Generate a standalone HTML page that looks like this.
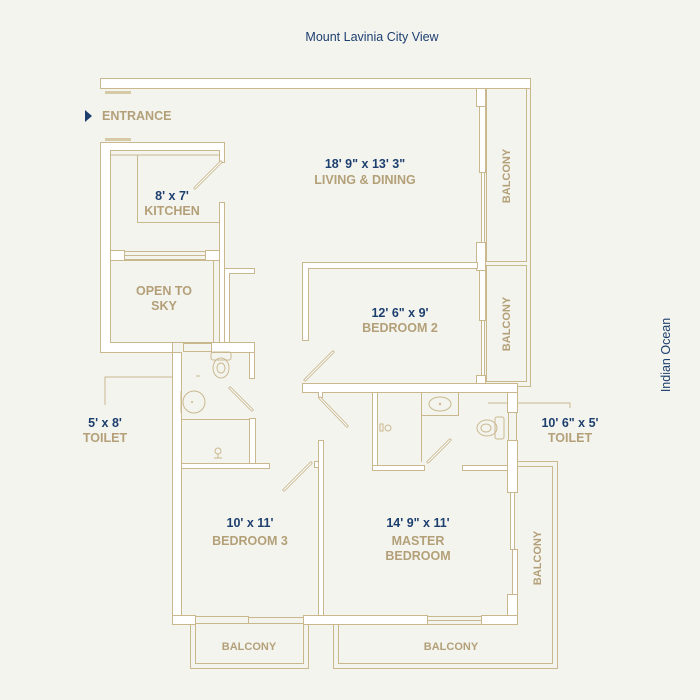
<!DOCTYPE html>
<html><head><meta charset="utf-8"><style>
html,body{margin:0;padding:0;background:#f4f4ef;}
svg{display:block}
text{font-family:"Liberation Sans",sans-serif;}
.n{fill:#1d3f6e;font-size:12.5px;font-weight:bold}
.t{fill:#b3a078;font-size:12.5px;font-weight:bold}
.w{fill:#fff;stroke:#c9b88e;stroke-width:1}
.l{fill:none;stroke:#c9b88e;stroke-width:1}
.d{stroke:#c9b88e;stroke-width:3;stroke-linecap:round}
.d2{stroke:#fff;stroke-width:1.2;stroke-linecap:round}
</style></head><body>
<svg width="700" height="700" viewBox="0 0 700 700" xmlns="http://www.w3.org/2000/svg">
<rect width="700" height="700" fill="#f4f4ef"/>
<text x="372" y="41" text-anchor="middle" style="fill:#1d3f6e;font-size:12.5px">Mount Lavinia City View</text>
<text transform="translate(670,355) rotate(-90)" text-anchor="middle" style="fill:#1d3f6e;font-size:12.5px">Indian Ocean</text>

<!-- top wall -->
<rect class="w" x="100.5" y="78.5" width="430" height="10"/>
<rect x="105" y="91" width="26" height="3" fill="#d6c9a6"/>
<rect x="105" y="138" width="26" height="3" fill="#d6c9a6"/>
<polygon points="85,110 92,116 85,122" fill="#1d3f6e"/>
<text x="102" y="120" class="t">ENTRANCE</text>

<!-- living right wall and balconies -->
<rect class="w" x="476.5" y="88.5" width="9" height="18"/>
<rect class="w" x="479.5" y="106.5" width="6" height="66"/>
<rect class="w" x="481.5" y="172.5" width="3" height="72"/>
<rect class="w" x="476.5" y="242.5" width="9" height="28"/>
<rect class="w" x="479.5" y="270.5" width="6" height="50"/>
<rect class="w" x="481.5" y="320.5" width="3" height="55"/>
<rect class="w" x="476.5" y="375.5" width="9" height="10"/>
<rect class="l" x="486.5" y="88.5" width="40" height="173"/>
<rect class="l" x="486.5" y="265.5" width="40" height="116"/>
<polyline class="l" points="530.5,88.5 530.5,386.5 510,386.5"/>
<text transform="translate(510,176) rotate(-90)" text-anchor="middle" class="t" style="font-size:11px">BALCONY</text>
<text transform="translate(510,324) rotate(-90)" text-anchor="middle" class="t" style="font-size:11px">BALCONY</text>

<!-- kitchen block -->
<path class="w" d="M100.5,142.5 H224.5 V162.5 H219.5 V150.5 H110.5 V342.5 H172.5 V352.5 H100.5 Z"/>
<line class="l" x1="110" y1="155" x2="219" y2="155"/>
<polyline class="l" points="137.5,155 137.5,222.5 219,222.5"/>
<rect class="w" x="219.5" y="202.5" width="5" height="140"/>
<rect class="w" x="110.5" y="250.5" width="14" height="10"/>
<rect class="w" x="205.5" y="250.5" width="14" height="10"/>
<rect class="l" x="124.5" y="251.5" width="81" height="8"/>
<line class="l" x1="124" y1="255.5" x2="205" y2="255.5"/>
<rect class="l" x="110.5" y="260.5" width="103" height="82"/>
<path class="w" d="M224.5,268.5 H254.5 V273.5 H229.5 V342.5 H224.5 Z"/>
<rect class="w" x="211.5" y="342.5" width="43" height="10"/>
<rect class="l" x="183.5" y="343.5" width="28" height="8"/>
<rect class="w" x="249.5" y="352.5" width="5" height="26"/>
<line class="d" x1="195" y1="188" x2="221" y2="162"/><line class="d2" x1="195" y1="188" x2="221" y2="162"/>
<text x="172" y="200" text-anchor="middle" class="n">8' x 7'</text>
<text x="172" y="215" text-anchor="middle" class="t">KITCHEN</text>
<text x="164" y="295" text-anchor="middle" class="t">OPEN TO</text>
<text x="164" y="310" text-anchor="middle" class="t">SKY</text>

<!-- left toilet -->
<rect class="w" x="172.5" y="352.5" width="9" height="271"/>
<rect class="l" x="181.5" y="419.5" width="68" height="45"/>
<rect class="w" x="249.5" y="418.5" width="6" height="45"/>
<rect class="w" x="181.5" y="463.5" width="88" height="5"/>
<rect class="l" x="211" y="352" width="20" height="8" rx="2"/>
<ellipse class="l" cx="221" cy="368" rx="8" ry="10"/>
<ellipse class="l" cx="221" cy="368" rx="4" ry="5"/>
<ellipse class="l" cx="194" cy="402" rx="11" ry="11"/>
<circle cx="192" cy="402" r="1" fill="#c9b88e"/>
<line class="l" x1="181" y1="391" x2="181" y2="413"/>
<circle class="l" cx="218" cy="451" r="3"/>
<line class="l" x1="214" y1="458" x2="222" y2="458"/>
<line class="l" x1="218" y1="454" x2="218" y2="458"/>
<line class="l" x1="196" y1="376" x2="200" y2="376"/>
<line class="d" x1="230" y1="388" x2="252" y2="410"/><line class="d2" x1="230" y1="388" x2="252" y2="410"/>
<polyline class="l" points="105,405 105,377 172,377"/>
<text x="105" y="427" text-anchor="middle" class="n">5' x 8'</text>
<text x="105" y="442" text-anchor="middle" class="t">TOILET</text>

<!-- bedroom 2 -->
<path class="w" d="M302.5,262.5 H477.5 V268.5 H308.5 V340.5 H302.5 Z"/>
<path class="w" d="M302.5,383.5 H517.5 V392.5 H322.5 V397.5 H318.5 V392.5 H302.5 Z"/>
<line class="d" x1="305" y1="380" x2="333" y2="352"/><line class="d2" x1="305" y1="380" x2="333" y2="352"/>
<line class="d" x1="320" y1="398" x2="347" y2="426"/><line class="d2" x1="320" y1="398" x2="347" y2="426"/>
<text x="400" y="317" text-anchor="middle" class="n">12' 6" x 9'</text>
<text x="400" y="332" text-anchor="middle" class="t">BEDROOM 2</text>
<text x="365" y="168" text-anchor="middle" class="n">18' 9" x 13' 3"</text>
<text x="365" y="184" text-anchor="middle" class="t">LIVING &amp; DINING</text>

<!-- ensuite -->
<rect class="w" x="372.5" y="392.5" width="5" height="73"/>
<line class="l" x1="421.5" y1="392" x2="421.5" y2="462"/>
<rect class="l" x="421.5" y="392.5" width="37" height="23"/>
<ellipse class="l" cx="440" cy="404" rx="11" ry="7"/>
<circle cx="440" cy="404" r="1.2" fill="#c9b88e"/>
<rect class="l" x="380" y="424" width="3" height="7"/>
<circle class="l" cx="388" cy="428" r="3"/>
<rect class="w" x="507.5" y="392.5" width="10" height="20"/>
<rect class="l" x="508.5" y="412.5" width="8" height="28"/>
<rect class="w" x="507.5" y="440.5" width="10" height="52"/>
<rect class="l" x="495" y="417" width="9" height="22" rx="2"/>
<ellipse class="l" cx="487" cy="428" rx="10" ry="8"/>
<ellipse class="l" cx="486" cy="428" rx="5" ry="4"/>
<line class="l" x1="488" y1="403" x2="507" y2="403"/>
<polyline class="l" points="517,403 570,403 570,408"/>
<text x="570" y="427" text-anchor="middle" class="n">10' 6" x 5'</text>
<text x="570" y="442" text-anchor="middle" class="t">TOILET</text>
<line class="d" x1="428" y1="462" x2="450" y2="440"/><line class="d2" x1="428" y1="462" x2="450" y2="440"/>

<!-- master bedroom / bedroom 3 walls -->
<rect class="w" x="372.5" y="465.5" width="52" height="5"/>
<rect class="w" x="462.5" y="465.5" width="45" height="5"/>
<rect class="w" x="510.5" y="492.5" width="4" height="57"/>
<rect class="w" x="512.5" y="549.5" width="5" height="45"/>
<rect class="w" x="507.5" y="594.5" width="10" height="22"/>
<rect class="w" x="318.5" y="440.5" width="5" height="176"/>
<rect class="w" x="314.5" y="461.5" width="4" height="6"/>
<line class="d" x1="284" y1="490" x2="311" y2="463"/><line class="d2" x1="284" y1="490" x2="311" y2="463"/>
<path class="w" d="M172.5,615.5 H195.5 V624.5 H172.5 Z"/>
<rect class="l" x="195.5" y="616.5" width="53" height="7"/>
<rect class="l" x="248.5" y="617.5" width="55" height="6"/>
<rect class="w" x="303.5" y="615.5" width="124" height="9"/>
<rect class="l" x="427.5" y="616.5" width="54" height="8"/>
<line class="l" x1="427" y1="620.5" x2="481" y2="620.5"/>
<rect class="w" x="481.5" y="615.5" width="36" height="9"/>
<text x="250" y="527" text-anchor="middle" class="n">10' x 11'</text>
<text x="250" y="545" text-anchor="middle" class="t">BEDROOM 3</text>
<text x="418" y="527" text-anchor="middle" class="n">14' 9" x 11'</text>
<text x="418" y="545" text-anchor="middle" class="t">MASTER</text>
<text x="418" y="560" text-anchor="middle" class="t">BEDROOM</text>

<!-- balconies bottom -->
<path class="l" d="M190.5,624.5 V668.5 H308.5 V624.5"/>
<path class="l" d="M195.5,624.5 V663.5 H303.5 V624.5"/>
<text x="249" y="650" text-anchor="middle" class="t" style="font-size:11px">BALCONY</text>
<path class="l" d="M517.5,461.5 H557.5 V668.5 H333.5 V624.5"/>
<path class="l" d="M517.5,466.5 H552.5 V663.5 H338.5 V624.5"/>
<text x="451" y="650" text-anchor="middle" class="t" style="font-size:11px">BALCONY</text>
<text transform="translate(541,558) rotate(-90)" text-anchor="middle" class="t" style="font-size:11px">BALCONY</text>
</svg>
</body></html>
